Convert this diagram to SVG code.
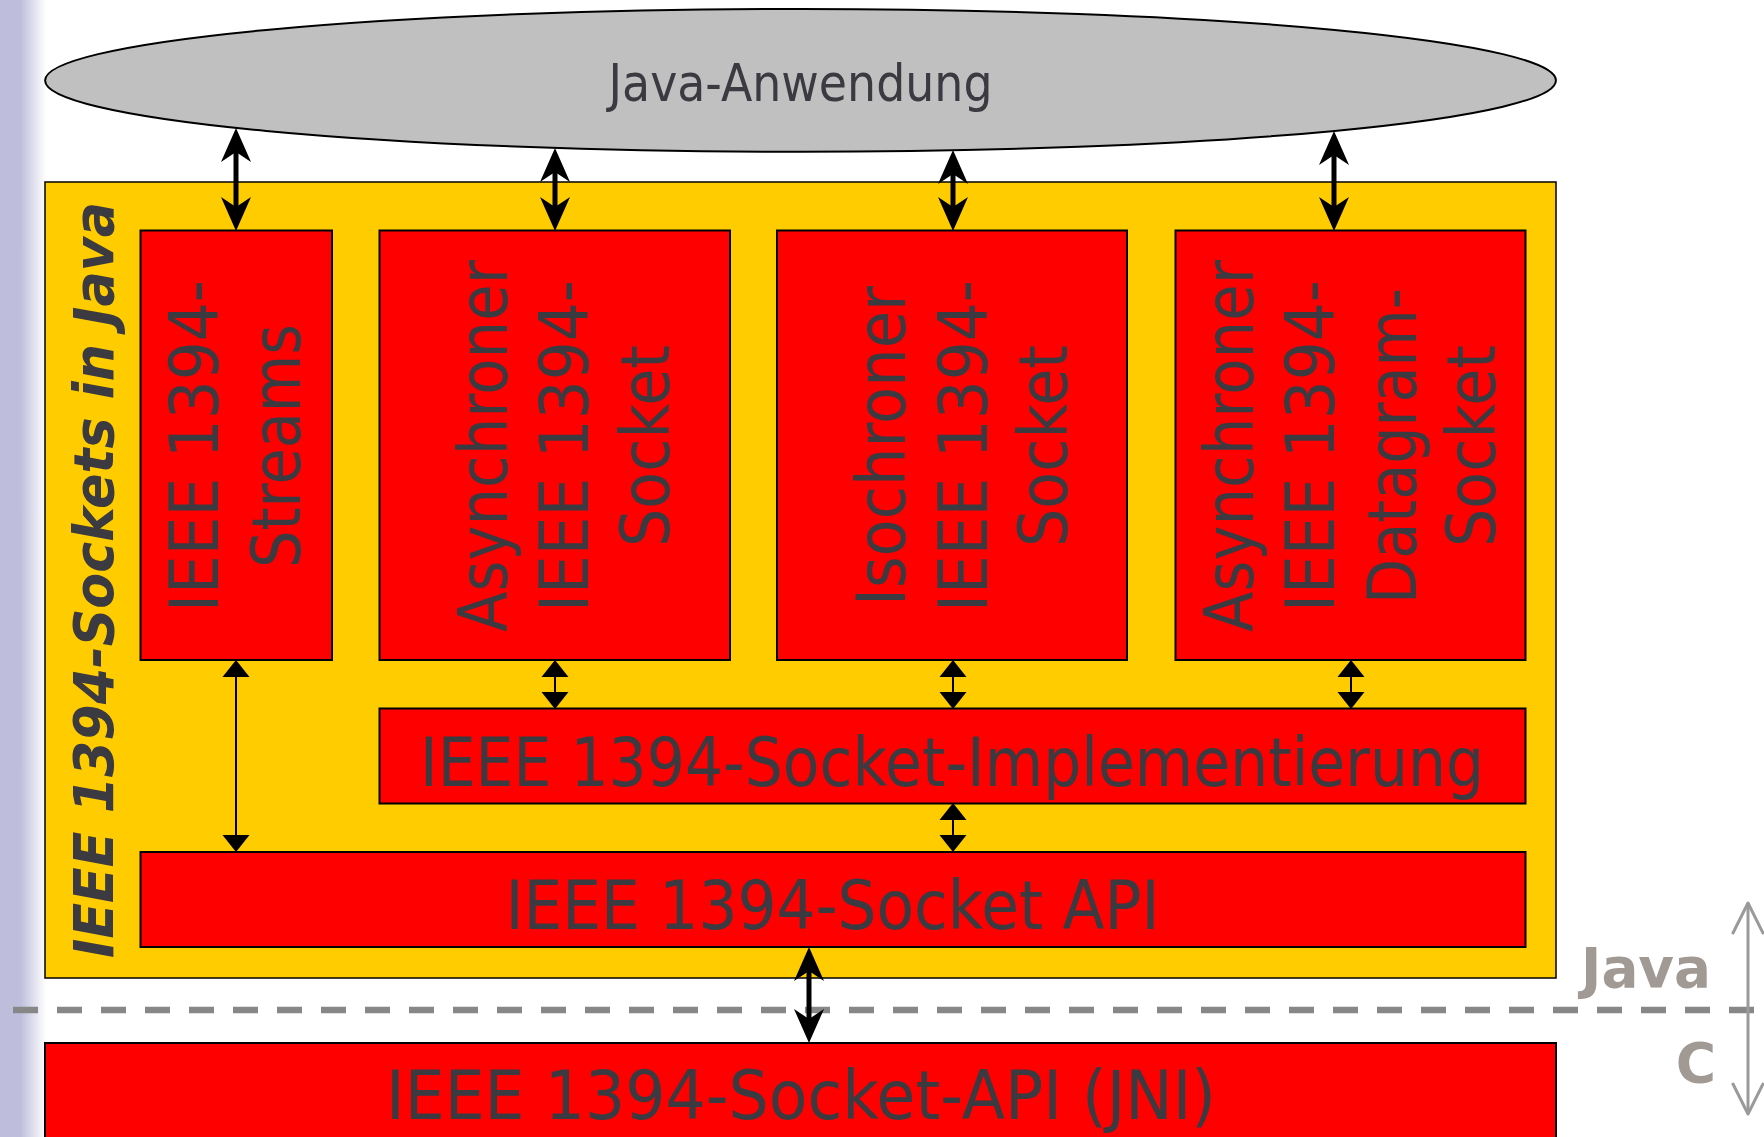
<svg xmlns="http://www.w3.org/2000/svg" width="1764" height="1137" viewBox="0 0 1764 1137">
  <style>
    .lbl { font-family: "DejaVu Sans", Verdana, sans-serif; fill: #3b3a40; }
    .big { font-size: 67px; }
    .red { fill: #ff0000; stroke: #000; stroke-width: 2; }
    .thick { stroke: #000; stroke-width: 5; fill: none; marker-start: url(#headThick); marker-end: url(#headThick); }
    .thin { stroke: #000; stroke-width: 2; fill: none; marker-start: url(#headThin); marker-end: url(#headThin); }
    .side { font-family: "DejaVu Sans", Verdana, sans-serif; font-weight: bold; font-size: 55px; fill: #a19993; }
  </style>
  <defs>
    <linearGradient id="band" x1="0" y1="0" x2="1" y2="0">
      <stop offset="0" stop-color="#bdbddb"/>
      <stop offset="0.45" stop-color="#bfbfdc"/>
      <stop offset="1" stop-color="#ffffff"/>
    </linearGradient>
    <!-- stealth-style head for the heavy connectors -->
    <marker id="headThick" markerUnits="userSpaceOnUse" markerWidth="40" markerHeight="40" orient="auto-start-reverse" overflow="visible">
      <path d="M14,0 L-20,-15 L-10,0 L-20,15 Z" fill="#000"/>
    </marker>
    <!-- flat triangular head for the light connectors -->
    <marker id="headThin" markerUnits="userSpaceOnUse" markerWidth="30" markerHeight="30" orient="auto-start-reverse" overflow="visible">
      <path d="M6,0 L-11,-13.5 L-11,13.5 Z" fill="#000"/>
    </marker>
    <marker id="headOpen" markerUnits="userSpaceOnUse" markerWidth="40" markerHeight="40" orient="auto-start-reverse" overflow="visible">
      <path d="M-30,-15 L0,0 L-30,15" fill="none" stroke="#9a9a9a" stroke-width="3" stroke-linecap="round" stroke-linejoin="round"/>
    </marker>
  </defs>

  <rect x="0" y="0" width="1764" height="1137" fill="#ffffff"/>
  <rect x="0" y="0" width="46" height="1137" fill="url(#band)"/>

  <!-- application -->
  <g id="app">
    <ellipse cx="800.5" cy="80.4" rx="755.4" ry="71.4" fill="#c0c0c0" stroke="#000" stroke-width="2"/>
    <text class="lbl" x="800.5" y="101" font-size="51" text-anchor="middle" textLength="384" lengthAdjust="spacingAndGlyphs">Java-Anwendung</text>
  </g>

  <!-- Java layer container -->
  <g id="javaLayer">
    <rect x="45" y="182" width="1511" height="796" fill="#ffcc00" stroke="#000" stroke-width="1.5"/>
    <text class="lbl" transform="translate(0,580) rotate(-90)" x="0" y="113" font-size="56" font-weight="bold" font-style="italic" text-anchor="middle" textLength="756" lengthAdjust="spacingAndGlyphs">IEEE 1394-Sockets in Java</text>
  </g>

  <g id="streams">
    <rect class="red" x="140.5" y="230.5" width="191.5" height="429.5"/>
    <g class="lbl big" text-anchor="middle" transform="translate(0,446) rotate(-90)">
      <text x="0" y="218" textLength="332" lengthAdjust="spacingAndGlyphs">IEEE 1394-</text>
      <text x="0" y="300" textLength="244" lengthAdjust="spacingAndGlyphs">Streams</text>
    </g>
  </g>

  <g id="asyncSocket">
    <rect class="red" x="379.5" y="230.5" width="350.5" height="429.5"/>
    <g class="lbl big" text-anchor="middle" transform="translate(0,446) rotate(-90)">
      <text x="0" y="507" textLength="372" lengthAdjust="spacingAndGlyphs">Asynchroner</text>
      <text x="0" y="588" textLength="332" lengthAdjust="spacingAndGlyphs">IEEE 1394-</text>
      <text x="0" y="669" textLength="202" lengthAdjust="spacingAndGlyphs">Socket</text>
    </g>
  </g>

  <g id="isoSocket">
    <rect class="red" x="777" y="230.5" width="350" height="429.5"/>
    <g class="lbl big" text-anchor="middle" transform="translate(0,446) rotate(-90)">
      <text x="0" y="905" textLength="320" lengthAdjust="spacingAndGlyphs">Isochroner</text>
      <text x="0" y="987" textLength="332" lengthAdjust="spacingAndGlyphs">IEEE 1394-</text>
      <text x="0" y="1067" textLength="202" lengthAdjust="spacingAndGlyphs">Socket</text>
    </g>
  </g>

  <g id="datagramSocket">
    <rect class="red" x="1175.5" y="230.5" width="350" height="429.5"/>
    <g class="lbl big" text-anchor="middle" transform="translate(0,446) rotate(-90)">
      <text x="0" y="1253" textLength="372" lengthAdjust="spacingAndGlyphs">Asynchroner</text>
      <text x="0" y="1334" textLength="332" lengthAdjust="spacingAndGlyphs">IEEE 1394-</text>
      <text x="0" y="1416" textLength="316" lengthAdjust="spacingAndGlyphs">Datagram-</text>
      <text x="0" y="1495" textLength="202" lengthAdjust="spacingAndGlyphs">Socket</text>
    </g>
  </g>

  <g id="socketImpl">
    <rect class="red" x="379.5" y="708.5" width="1146" height="95"/>
    <text class="lbl big" x="952" y="786" text-anchor="middle" textLength="1064" lengthAdjust="spacingAndGlyphs">IEEE 1394-Socket-Implementierung</text>
  </g>

  <g id="socketApi">
    <rect class="red" x="140.5" y="852" width="1385" height="95"/>
    <text class="lbl big" x="832.5" y="929" text-anchor="middle" textLength="654" lengthAdjust="spacingAndGlyphs">IEEE 1394-Socket API</text>
  </g>

  <g id="jniApi">
    <rect class="red" x="45" y="1043" width="1511" height="110"/>
    <text class="lbl big" x="801" y="1119" text-anchor="middle" textLength="830" lengthAdjust="spacingAndGlyphs">IEEE 1394-Socket-API (JNI)</text>
  </g>

  <!-- language boundary -->
  <g id="boundary">
    <line x1="13" y1="1010" x2="1764" y2="1010" stroke="#878787" stroke-width="6.5" stroke-dasharray="25 19"/>
    <text class="side" x="1646" y="987" text-anchor="middle" textLength="130" lengthAdjust="spacingAndGlyphs">Java</text>
    <text class="side" x="1696" y="1082" text-anchor="middle">C</text>
    <line x1="1748" y1="903" x2="1748" y2="1114" stroke="#9a9a9a" stroke-width="3" marker-start="url(#headOpen)" marker-end="url(#headOpen)"/>
  </g>

  <g id="connectors">
    <!-- application to socket classes -->
    <line class="thick" x1="236" y1="142" x2="236" y2="217"/>
    <line class="thick" x1="555" y1="162" x2="555" y2="217"/>
    <line class="thick" x1="953" y1="164" x2="953" y2="217"/>
    <line class="thick" x1="1334" y1="145" x2="1334" y2="217"/>
    <!-- socket classes to implementation -->
    <line class="thin" x1="555" y1="666" x2="555" y2="703"/>
    <line class="thin" x1="953" y1="666" x2="953" y2="703"/>
    <line class="thin" x1="1351" y1="666" x2="1351" y2="703"/>
    <!-- streams and implementation to socket API -->
    <line class="thin" x1="236" y1="666" x2="236" y2="846"/>
    <line class="thin" x1="953" y1="809" x2="953" y2="846"/>
    <!-- socket API to native layer -->
    <line class="thick" x1="809" y1="961" x2="809" y2="1029"/>
  </g>
</svg>
